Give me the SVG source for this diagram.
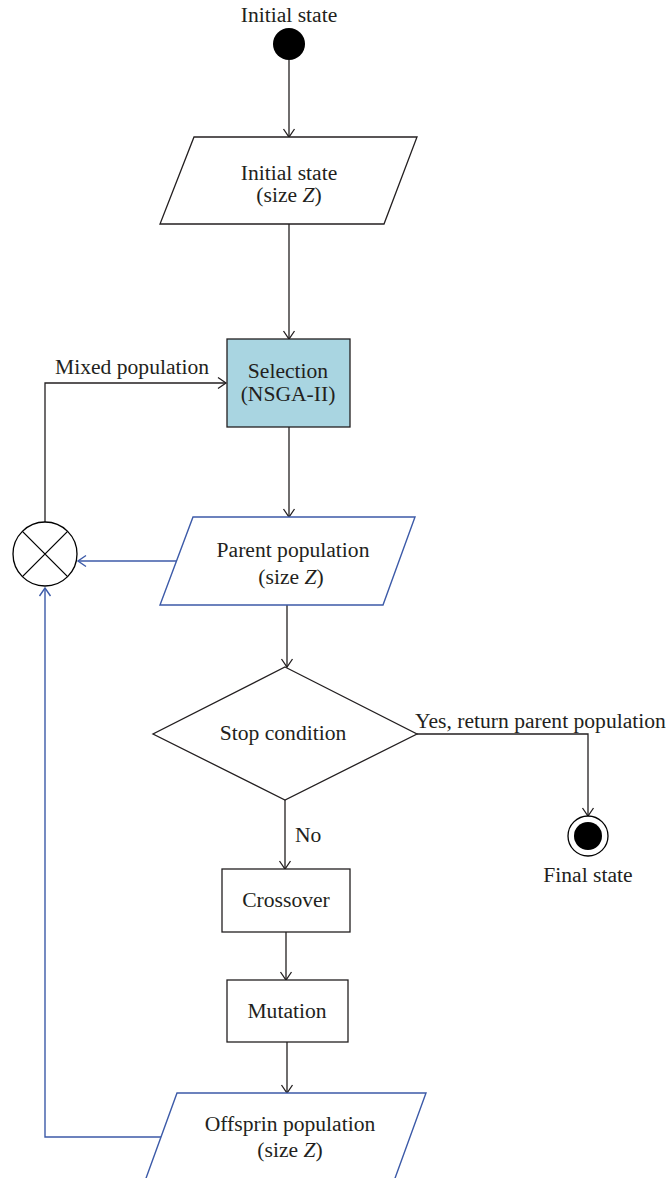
<svg xmlns="http://www.w3.org/2000/svg" width="669" height="1178" viewBox="0 0 669 1178">
<defs>
<style>
text{font-family:"Liberation Serif","Times New Roman",serif;font-size:21.6px;fill:#231f20}
.c{text-anchor:middle}
.k{fill:none;stroke:#231f20;stroke-width:1.3}
.b{fill:none;stroke:#3c5aa8;stroke-width:1.4}
.box{fill:#ffffff;stroke:#231f20;stroke-width:1.3}
.bbox{fill:#ffffff;stroke:#3c5aa8;stroke-width:1.4}
</style>
<marker id="ak" markerUnits="userSpaceOnUse" markerWidth="14" markerHeight="14" viewBox="-10 -7 12 14" refX="0" refY="0" orient="auto">
<path d="M-8,-5.5 L0,0 L-8,5.5" fill="none" stroke="#231f20" stroke-width="1.3"/>
</marker>
<marker id="ab" markerUnits="userSpaceOnUse" markerWidth="14" markerHeight="14" viewBox="-10 -7 12 14" refX="0" refY="0" orient="auto">
<path d="M-8,-5.5 L0,0 L-8,5.5" fill="none" stroke="#3c5aa8" stroke-width="1.4"/>
</marker>
</defs>
<rect width="669" height="1178" fill="#ffffff"/>

<g id="connectors">
<path class="k" d="M289,60 V137" marker-end="url(#ak)"/>
<path class="k" d="M289,224 V339" marker-end="url(#ak)"/>
<path class="k" d="M289,427 V517" marker-end="url(#ak)"/>
<path class="k" d="M287,605 V667" marker-end="url(#ak)"/>
<path class="k" d="M285,800 V869" marker-end="url(#ak)"/>
<path class="k" d="M286,932 V980" marker-end="url(#ak)"/>
<path class="k" d="M287,1042 V1093" marker-end="url(#ak)"/>
<path class="k" d="M417,734 H588 V816" marker-end="url(#ak)"/>
<path class="k" d="M45,522 V383 H226" marker-end="url(#ak)"/>
<path class="b" d="M176,561 H78" marker-end="url(#ab)"/>
<path class="b" d="M161,1137 H45 V588" marker-end="url(#ab)"/>
<text x="55" y="374">Mixed population</text>
<text x="415" y="728">Yes, return parent population</text>
<text x="295" y="842">No</text>
</g>

<g id="initial">
<text class="c" x="289" y="22">Initial state</text>
<circle cx="289" cy="44" r="16" fill="#000000"/>
</g>

<g id="initial-population">
<polygon class="box" points="194,137 417,137 384,224 160,224"/>
<text class="c" x="289" y="180">Initial state</text>
<text class="c" x="289" y="202">(size <tspan font-style="italic">Z</tspan>)</text>
</g>

<g id="selection">
<rect x="227" y="339" width="123" height="88" fill="#a9d5e1" stroke="#231f20" stroke-width="1.3"/>
<text class="c" x="288" y="378">Selection</text>
<text class="c" x="288" y="401">(NSGA-II)</text>
</g>

<g id="mixer">
<circle cx="45" cy="554" r="32" fill="#ffffff" stroke="#000000" stroke-width="1.3"/>
<path d="M22.4,531.4 L67.6,576.6 M67.6,531.4 L22.4,576.6" stroke="#000000" stroke-width="1.3"/>
</g>

<g id="parent-population">
<polygon class="bbox" points="193,517 415,517 383,605 160,605"/>
<text class="c" x="293" y="557">Parent population</text>
<text class="c" x="291" y="584">(size <tspan font-style="italic">Z</tspan>)</text>
</g>

<g id="stop-condition">
<polygon class="box" points="285,667 417,734 285,800 153,734"/>
<text class="c" x="283" y="740">Stop condition</text>
</g>

<g id="final">
<circle cx="588" cy="836" r="20" fill="#ffffff" stroke="#000000" stroke-width="1.3"/>
<circle cx="588" cy="836" r="14" fill="#000000"/>
<text class="c" x="588" y="882">Final state</text>
</g>

<g id="crossover">
<rect class="box" x="222" y="869" width="128" height="63"/>
<text class="c" x="286" y="907">Crossover</text>
</g>

<g id="mutation">
<rect class="box" x="227" y="980" width="121" height="62"/>
<text class="c" x="287" y="1018">Mutation</text>
</g>

<g id="offspring-population">
<polygon class="bbox" points="177,1093 426,1093 394,1181 145,1181"/>
<text class="c" x="290" y="1131">Offsprin population</text>
<text class="c" x="290" y="1157">(size <tspan font-style="italic">Z</tspan>)</text>
</g>
</svg>
